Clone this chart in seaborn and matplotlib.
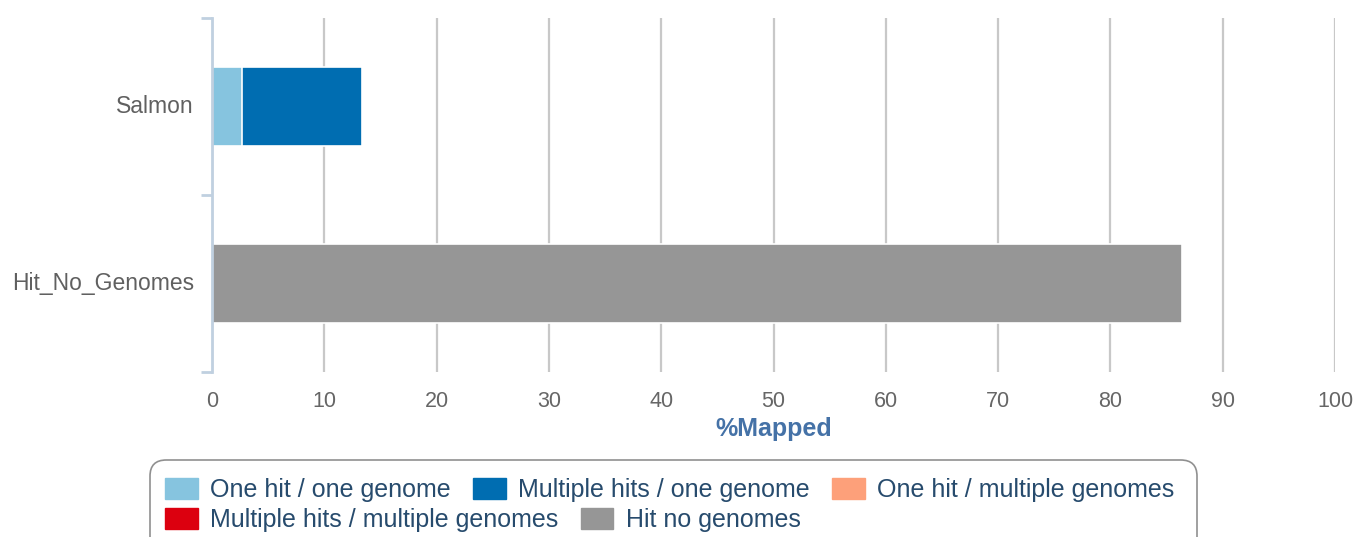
import pandas as pd
import numpy as np
import matplotlib
matplotlib.use("Agg")
import matplotlib.pyplot as plt
from matplotlib.patches import FancyBboxPatch, Patch
import seaborn as sns

# data
categories = ["Salmon", "Hit_No_Genomes"]
series_names = ["One hit / one genome", "Multiple hits / one genome",
                "One hit / multiple genomes", "Multiple hits / multiple genomes",
                "Hit no genomes"]
one_hit_one_genome = [2.7, 0.0]
multi_hits_one_genome = [10.7, 0.0]
one_hit_multi_genomes = [0.0, 0.0]
multi_hits_multi_genomes = [0.0, 0.0]
hit_no_genomes = [0.0, 86.4]
series_colors = ["#86C4DF", "#006DB1", "#FDA07A", "#DC000F", "#969696"]
x_ticks = [0, 10, 20, 30, 40, 50, 60, 70, 80, 90, 100]

values = [one_hit_one_genome, multi_hits_one_genome, one_hit_multi_genomes,
          multi_hits_multi_genomes, hit_no_genomes]

rows = []
for name, vals in zip(series_names, values):
    for cat, v in zip(categories, vals):
        rows.append({"category": cat, "series": name, "value": v})
df = pd.DataFrame(rows)
df["series"] = pd.Categorical(df["series"], series_names, ordered=True)
df = df.sort_values(["category", "series"])
df["cum"] = df.groupby("category")["value"].cumsum()

sns.set_theme(style="white")
plt.rcParams["font.family"] = ["Liberation Sans", "DejaVu Sans"]

fig = plt.figure(figsize=(13.56, 5.37), dpi=100)
ax = fig.add_axes([212 / 1356, 1 - 372 / 537, (1335 - 212) / 1356, (372 - 18) / 537])

# stacked bars: draw cumulative totals from last series to first
for name, color in reversed(list(zip(series_names, series_colors))):
    sub = df[(df["series"] == name) & (df["value"] > 0)]
    if sub.empty:
        continue
    sns.barplot(data=sub, x="cum", y="category", order=categories, color=color,
                orient="h", width=0.45, edgecolor="white", linewidth=1.2,
                saturation=1, ax=ax, zorder=3)

ax.set_xlim(0, 100)
ax.set_ylim(1.5, -0.5)
ax.set_xticks(x_ticks)
ax.set_xticklabels([str(t) for t in x_ticks])
ax.grid(axis="x", color="#C8C8C8", linewidth=1.6, zorder=0)
ax.set_axisbelow(True)

for s in ["top", "right", "bottom"]:
    ax.spines[s].set_visible(False)
ax.spines["left"].set_color("#C0D0E0")
ax.spines["left"].set_linewidth(2)
ax.spines["left"].set_zorder(4)

ax.tick_params(axis="x", length=0, pad=14, labelsize=15.5, labelcolor="#666666")
ax.tick_params(axis="y", which="major", left=False, length=0, pad=13,
               labelsize=16.5, labelcolor="#606060")
ax.set_yticks([-0.5, 0.5, 1.5], minor=True)
ax.tick_params(axis="y", which="minor", left=True, length=8, width=2,
               color="#C0D0E0")
for lab in ax.get_yticklabels():
    lab.set_verticalalignment("center")

ax.set_ylabel("")
ax.set_xlabel("%Mapped", fontsize=18, fontweight="bold", color="#4572A7", labelpad=3)

# legend in two rows inside a rounded frame
frame = FancyBboxPatch((150 / 1356, -0.05), (1197 - 150) / 1356, 0.05 + (537 - 460) / 537,
                       boxstyle="round,pad=0,rounding_size=0.012",
                       transform=fig.transFigure, facecolor="white",
                       edgecolor="#909090", linewidth=1.2, mutation_aspect=2.5)
fig.patches.append(frame)

handles = [Patch(facecolor=c, edgecolor=c) for c in series_colors]
leg_kw = dict(frameon=False, fontsize=18, handlelength=1.3, handleheight=0.9,
              handletextpad=0.5, columnspacing=0.9, borderaxespad=0,
              labelcolor="#274B6D", loc="upper left")
leg1 = fig.legend(handles[:3], series_names[:3], ncol=3,
                  bbox_to_anchor=(155 / 1356, 1 - 468 / 537), **leg_kw)
leg2 = fig.legend(handles[3:], series_names[3:], ncol=2,
                  bbox_to_anchor=(155 / 1356, 1 - 498 / 537), **leg_kw)

fig.savefig("out.png", dpi=100)
